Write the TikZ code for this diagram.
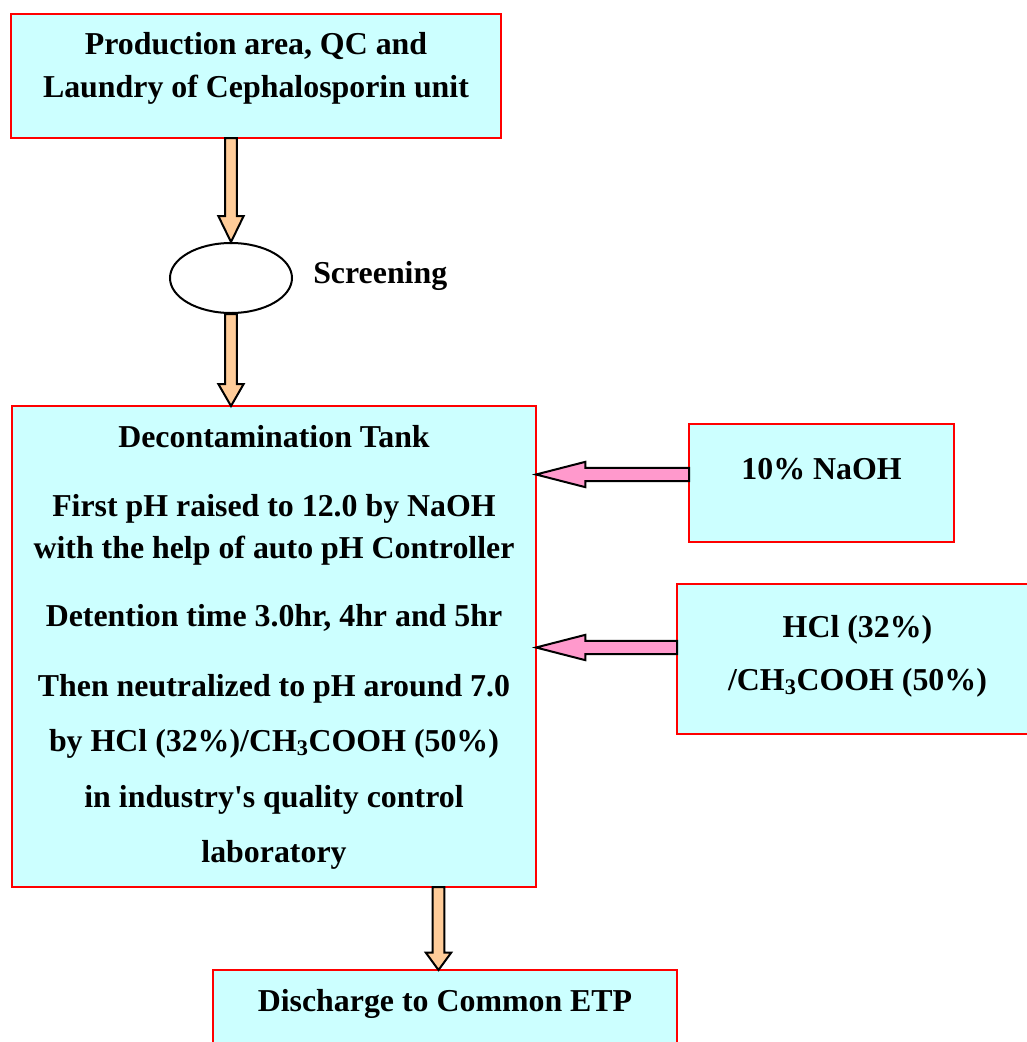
\documentclass[tikz,border=0pt]{standalone}
\usepackage{fontspec}
\setmainfont{Liberation Serif}
\usetikzlibrary{calc,shapes.geometric}
\definecolor{boxcyan}{HTML}{CCFFFF}
\definecolor{peach}{HTML}{FFCC99}
\definecolor{pinkfeed}{HTML}{FF99CC}

\begin{document}
\begin{tikzpicture}[x=0.75pt, y=-0.75pt,
    unitbox/.style={draw=red, line width=1.3pt, fill=boxcyan,
                    inner sep=0pt, outer sep=0pt},
    txt/.style={font=\fontsize{23.9}{28}\selectfont\bfseries,
                inner sep=0pt, anchor=base},
    fatarrow/.style n args={3}{draw=black, line width=1.5pt, to path={
        ($(\tikztostart)!#1!90:(\tikztotarget)$)
        -- ($(\tikztotarget)!#3!(\tikztostart)!#1!90:(\tikztotarget)$)
        -- ($(\tikztotarget)!#3!(\tikztostart)!#2!90:(\tikztotarget)$)
        -- (\tikztotarget)
        -- ($(\tikztotarget)!#3!(\tikztostart)!#2!-90:(\tikztotarget)$)
        -- ($(\tikztotarget)!#3!(\tikztostart)!#1!-90:(\tikztotarget)$)
        -- ($(\tikztostart)!#1!-90:(\tikztotarget)$) -- cycle}},
    flow/.style={fill=peach, fatarrow={4.4pt}{9.5pt}{#1}},
    dose/.style={fill=pinkfeed, fatarrow={4.9pt}{9.5pt}{37pt}},
]
\useasboundingbox (0,0) rectangle (1027,1042);
\clip (0,0) rectangle (1027,1042);

% Boxes
\node[unitbox, minimum width=367.5pt, minimum height=93pt] (src) at (256,76) {};
\node[draw=black, line width=1.5pt, ellipse, fill=white, inner sep=0pt,
      minimum width=91.5pt, minimum height=52.5pt] (scr) at (231,278) {};
\node[unitbox, minimum width=393pt, minimum height=360.75pt] (dec) at (274,646.5) {};
\node[unitbox, minimum width=198.75pt, minimum height=88.5pt] (naoh) at (821.5,483) {};
\node[unitbox, minimum width=270.75pt, minimum height=112.5pt] (acid) at (857.5,659) {};
\node[unitbox, minimum width=348pt, minimum height=90pt] (etp) at (445,1030) {};

% Texts
\node[txt] (src1) at (256,54) {Production area, QC and};
\node[txt] (src2) at (256,97) {Laundry of Cephalosporin unit};
\node[txt, anchor=base west] (scrlbl) at (313,283) {Screening};
\foreach \yy/\line [count=\i] in {
    447/Decontamination Tank,
    516/First pH raised to 12.0 by NaOH,
    558/with the help of auto pH Controller,
    626/{Detention time 3.0hr, 4hr and 5hr},
    696/Then neutralized to pH around 7.0,
    751/{by HCl (32\%)/CH\textsubscript{3}COOH (50\%)},
    807/in industry\textquotesingle s quality control,
    862/laboratory}
{
    \node[txt] (dec\i) at (274,\yy) {\line};
}
\node[txt] (naohlbl) at (821.5,479) {10\% NaOH};
\node[txt] (acid1) at (857.5,637) {HCl (32\%)};
\node[txt] (acid2) at (857.5,690) {/CH\textsubscript{3}COOH (50\%)};
\node[txt] (etplbl) at (445,1011) {Discharge to Common ETP};

% Arrows
\coordinate (etpin) at ($(etp.north)+(-6.5,0)$);
\coordinate (naohout) at ($(naoh.west)+(0,-8.5)$);
\coordinate (acidout) at ($(acid.west)+(0,-11.5)$);
\draw[flow=19.5pt] (src.south -| scr.north) to (scr.north);
\draw[flow=16.5pt] (scr.south) to (scr.south |- dec.north);
\draw[flow=13pt] (dec.south -| etpin) to (etpin);
\draw[dose] (naohout) to (dec.east |- naohout);
\draw[dose] (acidout) to (dec.east |- acidout);

\end{tikzpicture}
\end{document}
